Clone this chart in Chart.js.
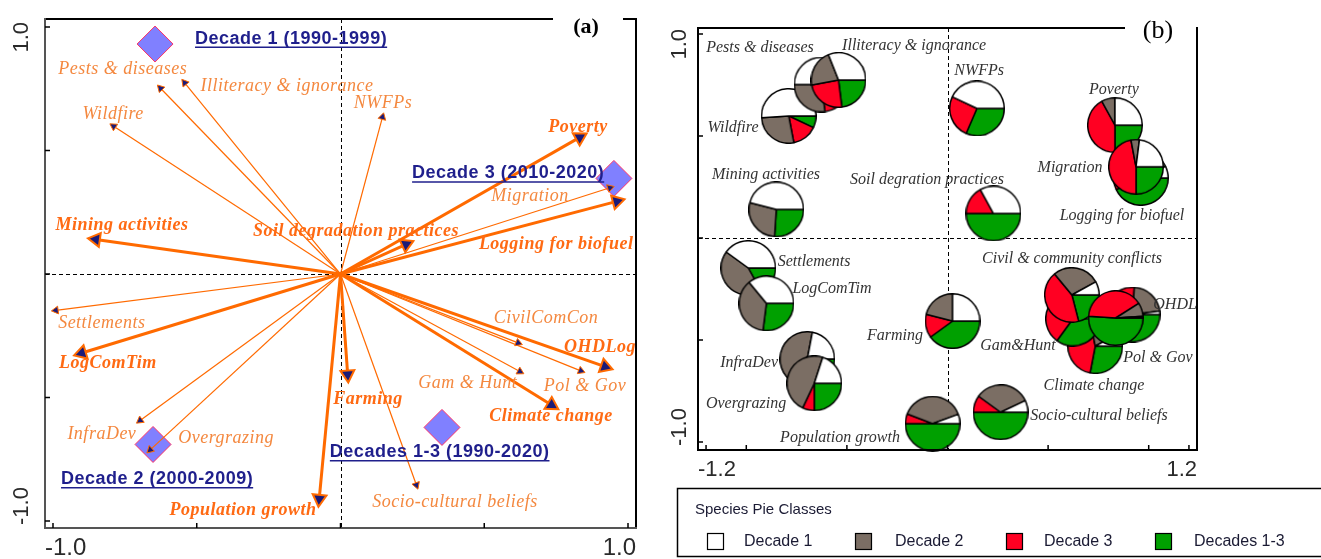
<!DOCTYPE html>
<html>
<head>
<meta charset="utf-8">
<script src="https://cdn.jsdelivr.net/npm/chart.js@4.4.1/dist/chart.umd.min.js"></script>
<style>
  html, body { margin: 0; padding: 0; background: #fff; }
  #wrap { position: relative; width: 1321px; height: 559px; overflow: hidden; }
  #biplot { position: absolute; left: 0; top: 0; }
  #pies { position: absolute; left: 660px; top: 0; }
  #pieStore { position: absolute; left: -3000px; top: 0; }
</style>
</head>
<body>
<div id="wrap">
  <canvas id="biplot" width="660" height="559"></canvas>
  <canvas id="pies" width="661" height="559"></canvas>
</div>
<div id="pieStore"></div>
<script>
// factor names, as printed in panel (a) and panel (b)
const factorsA = ['Pests & diseases', 'Illiteracy & ignorance', 'Wildfire', 'NWFPs', 'Mining activities',
  'Soil degradation practices', 'Poverty', 'Migration', 'Logging for biofuel', 'Settlements', 'LogComTim',
  'InfraDev', 'Overgrazing', 'Population growth', 'Farming', 'Socio-cultural beliefs', 'CivilComCon',
  'OHDLog', 'Gam & Hunt', 'Pol & Gov', 'Climate change'];
const factorsB = ['Pests & diseases', 'Illiteracy & ignorance', 'Wildfire', 'NWFPs', 'Mining activities',
  'Soil degration practices', 'Poverty', 'Migration', 'Logging for biofuel', 'Settlements', 'LogComTim',
  'InfraDev', 'Overgrazing', 'Population growth', 'Farming', 'Socio-cultural beliefs', 'Civil & community conflicts',
  'OHDL', 'Gam&Hunt', 'Pol & Gov', 'Climate change'];

// ordination scores of the factors
const axis1 = [-0.626, -0.542, -0.789, 0.146, -0.851, 0.228, 0.832, 0.937, 0.961, -0.990, -0.900,
  -0.697, -0.662, -0.074, 0.025, 0.264, 0.618, 0.920, 0.624, 0.836, 0.734];
const axis2 = [0.752, 0.774, 0.598, 0.635, 0.140, 0.120, 0.553, 0.349, 0.294, -0.147, -0.320,
  -0.593, -0.712, -0.910, -0.407, -0.854, -0.279, -0.375, -0.395, -0.392, -0.530];

// pie shares per factor
const decade1 = [0.50, 0.31, 0.51, 0.43, 0.46, 0.33, 0.25, 0.23, 0.07, 0.40, 0.36,
  0.22, 0.20, 0.056, 0.25, 0.07, 0.08, 0.02, 0.05, 0.01, 0.08];
const decade2 = [0.27, 0.22, 0.27, 0.00, 0.28, 0.00, 0.08, 0.05, 0.08, 0.43, 0.37,
  0.55, 0.48, 0.386, 0.21, 0.33, 0.28, 0.22, 0.15, 0.08, 0.20];
const decade3 = [0.08, 0.24, 0.15, 0.255, 0.00, 0.17, 0.42, 0.47, 0.42, 0.00, 0.00,
  0.03, 0.07, 0.058, 0.14, 0.10, 0.43, 0.30, 0.45, 0.40, 0.44];
const decadesAll = [0.15, 0.23, 0.07, 0.315, 0.26, 0.50, 0.25, 0.25, 0.43, 0.17, 0.27,
  0.20, 0.25, 0.50, 0.40, 0.50, 0.21, 0.46, 0.35, 0.51, 0.28];

// periods (diamonds)
const periods = ['Decade 1 (1990-1999)', 'Decade 2 (2000-2009)', 'Decade 3 (2010-2020)', 'Decades 1-3 (1990-2020)'];
const periodAxis1 = [-0.645, -0.652, 0.951, 0.353];
const periodAxis2 = [0.931, -0.690, 0.387, -0.621];

// axes
const ticksA = [-1, -0.5, 0, 0.5, 1];
const ticksBx = [-1.2, -1, -0.5, 0, 0.5, 1, 1.2];
const ticksBy = [-1, -0.5, 0, 0.5, 1];
const tickLabelsAx = ['-1.0', '1.0'];
const tickLabelsAy = ['-1.0', '1.0'];
const tickLabelsBx = ['-1.2', '1.2'];
const tickLabelsBy = ['-1.0', '1.0'];
const legendTitle = 'Species Pie Classes';
const classNames = ['Decade 1', 'Decade 2', 'Decade 3', 'Decades 1-3'];
const classColors = ['#ffffff', '#7b6e64', '#ff0022', '#00a000'];

// ---- layout only ----
const boldArrow = [false, false, false, false, true, true, true, false, true, false, true,
  false, false, true, true, false, false, true, false, false, true];
const labelPosA = [[-0.757, 0.827], [-0.186, 0.758], [-0.791, 0.645], [0.148, 0.690], [-0.760, 0.198],
  [0.054, 0.173], [0.826, 0.593], [0.659, 0.315], [0.750, 0.121], [-0.830, -0.198], [-0.809, -0.363],
  [-0.830, -0.649], [-0.398, -0.665], [-0.339, -0.956], [0.096, -0.508], [0.398, -0.923], [0.715, -0.181],
  [0.903, -0.298], [0.443, -0.444], [0.850, -0.456], [0.732, -0.577]];
const periodLabelPos = [[-0.506, 0.952], [-0.972, -0.831], [0.249, 0.407], [-0.037, -0.722]];
const labelPosB = [[-0.932, 0.932], [-0.166, 0.942], [-1.066, 0.540], [0.157, 0.821], [-0.902, 0.312],
  [-0.102, 0.283], [0.827, 0.724], [0.609, 0.346], [0.867, 0.109], [-0.663, -0.119], [-0.574, -0.249],
  [-0.986, -0.613], [-1.001, -0.811], [-0.534, -0.981], [-0.261, -0.477], [0.753, -0.869], [0.619, -0.104],
  [1.131, -0.327], [0.350, -0.530], [1.046, -0.588], [0.728, -0.724]];
const pieOrder = [2, 0, 1, 3, 4, 5, 6, 8, 7, 9, 10, 11, 12, 13, 14, 15, 20, 18, 16, 17, 19];

const ORANGE = '#ff6a00';
const NAVY = '#1b1b78';

function serif(size, bold) {
  return 'italic ' + (bold ? 'bold ' : '') + size + 'px "Liberation Serif", "Times New Roman", serif';
}

function drawFrame(ctx, a, gap, leftColor) {
  ctx.save();
  ctx.lineWidth = 2;
  ctx.strokeStyle = '#000';
  ctx.beginPath();
  ctx.moveTo(a.left, a.top); ctx.lineTo(gap[0], a.top);
  if (gap[1] < a.right) { ctx.moveTo(gap[1], a.top); ctx.lineTo(a.right, a.top); }
  ctx.moveTo(a.right, a.top - 1); ctx.lineTo(a.right, a.bottom);
  ctx.stroke();
  ctx.strokeStyle = leftColor;
  ctx.beginPath();
  ctx.moveTo(a.left, a.top - 1); ctx.lineTo(a.left, a.bottom);
  ctx.lineTo(a.right + 1, a.bottom);
  ctx.stroke();
  ctx.restore();
}

function drawZeroLines(chart) {
  const {ctx, chartArea: a, scales: {x, y}} = chart;
  const px = Math.round(x.getPixelForValue(0)) + 0.5;
  const py = Math.round(y.getPixelForValue(0)) + 0.5;
  ctx.save();
  ctx.strokeStyle = '#000';
  ctx.lineWidth = 1;
  ctx.setLineDash([4, 3]);
  ctx.beginPath();
  ctx.moveTo(a.left, py); ctx.lineTo(a.right, py);
  ctx.moveTo(px, a.top); ctx.lineTo(px, a.bottom);
  ctx.stroke();
  ctx.restore();
}

function drawTicks(chart, xt, yt, xLabels, yLabels, xFont, yFont, yLabelX) {
  const {ctx, chartArea: a, scales: {x, y}} = chart;
  ctx.save();
  ctx.strokeStyle = '#000';
  ctx.lineWidth = 1.5;
  ctx.beginPath();
  xt.forEach(v => { const p = x.getPixelForValue(v); ctx.moveTo(p, a.bottom); ctx.lineTo(p, a.bottom - 5); });
  yt.forEach(v => { const p = y.getPixelForValue(v); ctx.moveTo(a.left, p); ctx.lineTo(a.left + 5, p); });
  ctx.stroke();
  ctx.fillStyle = '#2a2a2a';
  ctx.textBaseline = 'middle';
  ctx.font = xFont;
  ctx.textAlign = 'left';
  ctx.fillText(xLabels[0], a.left, a.bottom + 20);
  ctx.textAlign = 'right';
  ctx.fillText(xLabels[1], a.right, a.bottom + 20);
  ctx.font = yFont;
  const yMin = y.getPixelForValue(yt[0]), yMax = y.getPixelForValue(yt[yt.length - 1]);
  ctx.save();
  ctx.translate(yLabelX, yMax - 5);
  ctx.rotate(-Math.PI / 2);
  ctx.textAlign = 'right';
  ctx.fillText(yLabels[1], 0, 0);
  ctx.restore();
  ctx.save();
  ctx.translate(yLabelX, yMin + 4);
  ctx.rotate(-Math.PI / 2);
  ctx.textAlign = 'left';
  ctx.fillText(yLabels[0], 0, 0);
  ctx.restore();
  ctx.restore();
}

// ---------- panel (a) ----------
const biplotDeco = {
  id: 'biplotDeco',
  beforeDatasetsDraw(chart) { drawZeroLines(chart); },
  afterDatasetsDraw(chart) {
    const {ctx, chartArea: a, scales: {x, y}} = chart;
    drawFrame(ctx, a, [553, 623], '#555');
    drawTicks(chart, ticksA, ticksA, tickLabelsAx, tickLabelsAy,
      '24px "Liberation Sans", Arial, sans-serif', '22px "Liberation Sans", Arial, sans-serif', 22);
    ctx.save();
    ctx.textAlign = 'center';
    ctx.textBaseline = 'middle';
    ctx.letterSpacing = '0.5px';
    factorsA.forEach((name, i) => {
      ctx.font = serif(18, boldArrow[i]);
      ctx.fillStyle = boldArrow[i] ? '#ff6a13' : '#f4883f';
      ctx.fillText(name, x.getPixelForValue(labelPosA[i][0]), y.getPixelForValue(labelPosA[i][1]));
    });
    ctx.font = 'bold 18px "Liberation Sans", Arial, sans-serif';
    ctx.fillStyle = '#1f1f8c';
    ctx.strokeStyle = '#1f1f8c';
    ctx.lineWidth = 1.5;
    ctx.textAlign = 'left';
    periods.forEach((p, i) => {
      const lx = x.getPixelForValue(periodLabelPos[i][0]);
      const ly = y.getPixelForValue(periodLabelPos[i][1]);
      ctx.fillText(p, lx, ly);
      const w = ctx.measureText(p).width;
      ctx.beginPath();
      ctx.moveTo(lx, ly + 8.5); ctx.lineTo(lx + w, ly + 8.5);
      ctx.stroke();
    });
    ctx.letterSpacing = '0px';
    ctx.font = 'bold 22px "Liberation Serif", "Times New Roman", serif';
    ctx.fillStyle = '#000';
    ctx.textAlign = 'center';
    ctx.fillText('(a)', 586, 27);
    ctx.restore();
  }
};

function headAngle(c) {
  const s = c.chart.scales, i = c.datasetIndex;
  const dx = s.x.getPixelForValue(axis1[i]) - s.x.getPixelForValue(0);
  const dy = s.y.getPixelForValue(axis2[i]) - s.y.getPixelForValue(0);
  return Math.atan2(dx, -dy) * 180 / Math.PI;
}

const arrowSets = factorsA.map((name, i) => ({
  label: name,
  data: [{x: 0, y: 0}, {x: axis1[i], y: axis2[i]}],
  showLine: true,
  borderColor: ORANGE,
  borderWidth: boldArrow[i] ? 3 : 1.2,
  pointStyle: 'triangle',
  pointRadius: [0, boldArrow[i] ? 8 : 4.5],
  pointRotation: headAngle,
  pointBackgroundColor: NAVY,
  pointBorderColor: ORANGE,
  pointBorderWidth: boldArrow[i] ? 2 : 1,
  order: 1,
  clip: false
}));

new Chart(document.getElementById('biplot'), {
  type: 'scatter',
  data: {
    datasets: arrowSets.concat([{
      label: 'periods',
      data: periods.map((p, i) => ({x: periodAxis1[i], y: periodAxis2[i]})),
      pointStyle: 'rectRot',
      pointRadius: 18,
      backgroundColor: '#8080ff',
      borderColor: '#ff3366',
      borderWidth: 1,
      order: 2,
      clip: false
    }])
  },
  options: {
    responsive: false,
    animation: false,
    devicePixelRatio: 1,
    events: [],
    layout: {padding: {left: 45, top: 17, right: 24, bottom: 31}},
    scales: {
      x: {type: 'linear', display: false, min: -1.0278, max: 1.0278},
      y: {type: 'linear', display: false, min: -1.0282, max: 1.0323}
    },
    plugins: {legend: {display: false}, tooltip: {enabled: false}}
  },
  plugins: [biplotDeco]
});

// ---------- panel (b) ----------
const store = document.getElementById('pieStore');
function makePie(i) {
  const cv = document.createElement('canvas');
  cv.width = 56; cv.height = 56;
  store.appendChild(cv);
  // drawn clockwise from east, so the classes go in reverse order
  new Chart(cv, {
    type: 'pie',
    data: {
      labels: classNames.slice().reverse(),
      datasets: [{
        data: [decadesAll[i], decade3[i], decade2[i], decade1[i]],
        backgroundColor: classColors.slice().reverse(),
        borderColor: '#000',
        borderWidth: 1.5
      }]
    },
    options: {
      responsive: false, animation: false, devicePixelRatio: 1, events: [],
      rotation: 90,
      layout: {padding: 0},
      plugins: {legend: {display: false}, tooltip: {enabled: false}}
    }
  });
  return cv;
}
const pieImages = pieOrder.map(makePie);

const pieDeco = {
  id: 'pieDeco',
  beforeDatasetsDraw(chart) { drawZeroLines(chart); },
  afterDatasetsDraw(chart) {
    const {ctx, chartArea: a, scales: {x, y}} = chart;
    drawFrame(ctx, a, [465, 999], '#000');
    drawTicks(chart, ticksBx, ticksBy, tickLabelsBx, tickLabelsBy,
      '22px "Liberation Sans", Arial, sans-serif', '22px "Liberation Sans", Arial, sans-serif', 20);
    ctx.save();
    ctx.font = serif(16, false);
    ctx.fillStyle = '#333';
    ctx.textAlign = 'center';
    ctx.textBaseline = 'middle';
    factorsB.forEach((name, i) => {
      ctx.fillText(name, x.getPixelForValue(labelPosB[i][0]), y.getPixelForValue(labelPosB[i][1]));
    });
    ctx.font = '26px "Liberation Serif", "Times New Roman", serif';
    ctx.fillStyle = '#000';
    ctx.fillText('(b)', 498, 31);
    // legend box
    ctx.lineWidth = 1.5;
    ctx.strokeStyle = '#000';
    ctx.strokeRect(17.5, 488.5, 700, 68);
    ctx.font = '15px "Liberation Sans", Arial, sans-serif';
    ctx.fillStyle = '#1a1a33';
    ctx.textAlign = 'left';
    ctx.fillText(legendTitle, 35, 510);
    const boxX = [47, 195, 346, 495], textX = [84, 235, 384, 534];
    classNames.forEach((c, i) => {
      ctx.fillStyle = classColors[i];
      ctx.fillRect(boxX[i], 533, 17, 17);
      ctx.lineWidth = 1.2;
      ctx.strokeRect(boxX[i] + 0.5, 533.5, 16, 16);
      ctx.fillStyle = '#1a1a33';
      ctx.font = '16px "Liberation Sans", Arial, sans-serif';
      ctx.fillText(c, textX[i], 542);
    });
    ctx.restore();
  }
};

new Chart(document.getElementById('pies'), {
  type: 'scatter',
  data: {
    datasets: [{
      label: 'factors',
      data: pieOrder.map(i => ({x: axis1[i], y: axis2[i]})),
      pointStyle: pieImages,
      pointRadius: 27,
      clip: false
    }]
  },
  options: {
    responsive: false,
    animation: false,
    devicePixelRatio: 1,
    events: [],
    layout: {padding: {left: 38, top: 23, right: 124, bottom: 109}},
    scales: {
      x: {type: 'linear', display: false, min: -1.240, max: 1.240},
      y: {type: 'linear', display: false, min: -1.039, max: 1.029}
    },
    plugins: {legend: {display: false}, tooltip: {enabled: false}}
  },
  plugins: [pieDeco]
});
</script>
</body>
</html>
